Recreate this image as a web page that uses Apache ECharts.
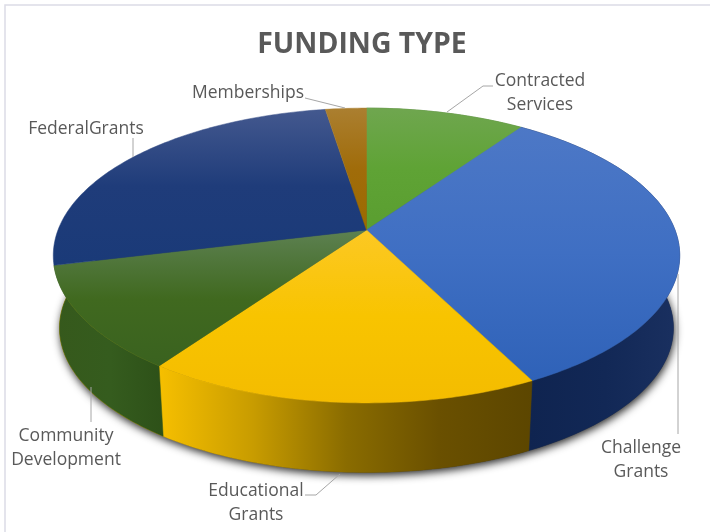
<!DOCTYPE html>
<html><head><meta charset="utf-8">
<style>html,body{margin:0;padding:0;background:#fff}#c{width:710px;height:532px}</style>
<script src="https://cdn.jsdelivr.net/npm/echarts@6/dist/echarts.min.js"></script>
</head><body><div id="c"></div>
<script>
// ---- data ----
const categories = ['Contracted\nServices','Challenge\nGrants','Educational\nGrants','Community\nDevelopment','FederalGrants','Memberships'];
const shares = [9.7, 32.8, 17.3, 11.4, 26.3, 2.5];
const titleText = 'FUNDING TYPE';

// ---- look ----
const FONT = '"Open Sans","Noto Sans",sans-serif';
const P = {cx:366.5, cy:230, A:308.5, B:143, k:0.173, s:0.98, dy:73};
function vgrad(y0,y1,stops){return {type:'linear',x:0,y:y0,x2:0,y2:y1,global:true,colorStops:stops.map((c,i)=>({offset:i/(stops.length-1),color:c}))};}
function hgrad(x0,x1,stops){return {type:'linear',x:x0,y:0,x2:x1,y2:0,global:true,colorStops:stops.map((c,i)=>({offset:i/(stops.length-1),color:c}))};}
const topFills = [
  vgrad(108,230,['#6fa64f','#5fa335','#5a9e30']),
  vgrad(125,380,['#4d78c6','#3f6fc3','#2f62b8']),
  vgrad(230,403,['#fcc824','#f8c400','#f4bc00']),
  vgrad(232,366,['#5c8050','#40691f','#3a621f']),
  vgrad(108,265,['#44598f','#1f3c7a','#1a3a78']),
  vgrad(108,230,['#ab7f30','#a06c0a','#9c6a00'])
];
const sideFills = [
  '#4a7a30',
  hgrad(530,680,['#0f2450','#122856','#1a3060']),
  hgrad(160,532,['#f6bf00','#c89c00','#8a6c00','#6a5000','#5c4600']),
  hgrad(55,165,['#36591c','#355c1e','#2d5018']),
  '#1a3a78',
  '#8a5c00'
];
const labelCenters = [[540,93],[641,460],[256,503],[66,448],[86,129],[248,93]];
const leaders = [
  [[493,86],[483,86],[447,112]],
  [[678,274],[678,434]],
  [[305,495],[316,495],[340,474]],
  [[91,387],[91,422]],
  [[133,138],[133,157]],
  [[305,98],[345,108]]
];

const total = shares.reduce((a,b)=>a+b,0);
const DEG = Math.PI/180;
function pt(t,low){
  const x=Math.sin(t), v=-Math.cos(t), w=1-P.k*v, s=low?P.s:1;
  return [P.cx+s*P.A*x/w, P.cy+(low?P.dy:0)+s*P.B*v/w];
}
function arc(a0,a1,low){
  const n=Math.max(2,Math.ceil((a1-a0)/DEG)), out=[];
  for(let i=0;i<=n;i++) out.push(pt(a0+(a1-a0)*i/n,low));
  return out;
}
function renderSlice(params,api){
  const i=params.dataIndex;
  let before=0; for(let j=0;j<i;j++) before+=shares[j];
  const a0=before/total*2*Math.PI, a1=(before+api.value(0))/total*2*Math.PI;
  const children=[];
  if(i===0){
    children.push({type:'polygon',z2:0,shape:{points:arc(0,2*Math.PI,true)},
      style:{fill:'#333',shadowBlur:8,shadowColor:'rgba(0,0,0,0.85)',shadowOffsetY:3,shadowOffsetX:1}});
  }
  const top=arc(a0,a1,false);
  if(a0<250*DEG){
    // the wall's lower edge runs on behind the top face so no straight seam shows past the silhouette
    const lowEnd=(a1>200*DEG)?Math.max(a1,285*DEG):a1;
    const low=arc(a0,lowEnd,true).reverse();
    children.push({type:'polygon',z2:1,shape:{points:top.concat(low)},style:{fill:sideFills[i],stroke:sideFills[i],lineWidth:0.5}});
  }
  children.push({type:'polygon',z2:2,shape:{points:[[P.cx,P.cy]].concat(top)},style:{fill:topFills[i],stroke:topFills[i],lineWidth:0.5}});
  children.push({type:'polyline',z2:3,shape:{points:leaders[i]},style:{fill:'none',stroke:'#a6a6a6',lineWidth:1}});
  children.push({type:'text',z2:4,x:labelCenters[i][0],y:labelCenters[i][1],
    style:{text:categories[i],fill:'#595959',font:'17.5px '+FONT,align:'center',verticalAlign:'middle',lineHeight:24}});
  return {type:'group',children};
}

const chart = echarts.init(document.getElementById('c'),null,{renderer:'canvas'});
chart.setOption({
  animation:false,
  backgroundColor:'#fff',
  title:{text:titleText,left:357,top:40,textAlign:'center',textVerticalAlign:'middle',
    textStyle:{color:'#595959',fontFamily:FONT,fontWeight:'bold',fontSize:28.4}},
  graphic:[{type:'rect',silent:true,shape:{x:5,y:5,width:800,height:800},style:{fill:'none',stroke:'#dcdce6',lineWidth:1.5}}],
  series:[{type:'custom',coordinateSystem:'none',silent:true,renderItem:renderSlice,
    data:categories.map((c,i)=>({name:c,value:[shares[i]]}))}]
});
</script></body></html>
